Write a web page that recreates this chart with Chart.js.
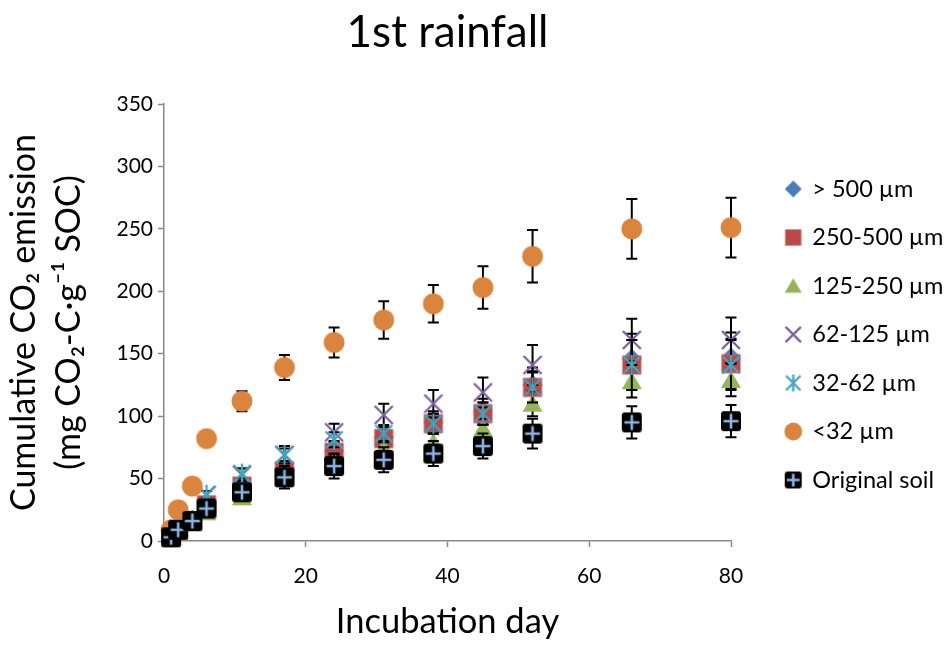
<!DOCTYPE html>
<html>
<head>
<meta charset="utf-8">
<script src="https://cdn.jsdelivr.net/npm/chart.js@4.4.1/dist/chart.umd.min.js"></script>
<style>
  html, body { margin: 0; padding: 0; background: #fff; }
  canvas { display: block; }
</style>
</head>
<body>
<canvas id="chart" width="947" height="646"></canvas>
<script>
// incubation days
var days = [1, 2, 4, 6, 11, 17, 24, 31, 38, 45, 52, 66, 80];

// cumulative CO2 (mean) and error bar size per fraction
var gt500 = [3, 8, 16, 29, 44, 58, 72, 83, 95, 104, 125, 146, 147];
var gt500Err = [1, 1, 2, 3, 4, 5, 7, 8, 9, 10, 14, 20, 20];
var f250 = [3, 8, 16, 29, 44, 56, 71, 82, 94, 102, 123, 141, 142];
var f250Err = [1, 1, 2, 3, 4, 5, 6, 7, 8, 9, 13, 20, 20];
var f125 = [2, 7, 14, 23, 35, 50, 64, 74, 79, 90, 110, 128, 129];
var f125Err = [1, 1, 2, 2, 3, 4, 5, 6, 7, 8, 10, 13, 13];
var f62 = [4, 9, 17, 37, 53, 69, 87, 101, 110, 119, 141, 161, 161];
var f62Err = [1, 1, 2, 3, 5, 7, 7, 9, 11, 12, 16, 17, 18];
var f32 = [4, 9, 17, 37, 54, 69, 81, 86, 94, 102, 123, 141, 141];
var f32Err = [1, 1, 2, 3, 4, 5, 6, 7, 8, 9, 12, 20, 20];
var lt32 = [9, 25, 44, 82, 112, 139, 159, 177, 190, 203, 228, 250, 251];
var lt32Err = [2, 3, 4, 3, 8, 10, 12, 15, 15, 17, 21, 24, 24];
var orig = [3, 9, 16, 26, 39, 51, 60, 65, 70, 76, 86, 95, 96];
var origErr = [1, 2, 3, 4, 6, 9, 10, 10, 10, 10, 12, 13, 13];

var seriesNames = ['> 500 \u00b5m', '250-500 \u00b5m', '125-250 \u00b5m', '62-125 \u00b5m', '32-62 \u00b5m', '<32 \u00b5m', 'Original soil'];
var xTicks = [0, 20, 40, 60, 80];
var yTicks = [0, 50, 100, 150, 200, 250, 300, 350];

// marker images (Excel style markers)
function marker(size, draw) {
    var c = document.createElement('canvas');
    c.width = c.height = Math.ceil(size + 6);
    var g = c.getContext('2d');
    g.translate(c.width / 2, c.height / 2);
    draw(g, size / 2);
    return c;
}

var shapes = [
    function(g, h) { // diamond
        g.fillStyle = '#4A7EBB';
        g.beginPath();
        g.moveTo(0, -h); g.lineTo(h, 0); g.lineTo(0, h); g.lineTo(-h, 0);
        g.closePath(); g.fill();
    },
    function(g, h) { // square
        g.fillStyle = '#BA4A47';
        g.fillRect(-h * 0.92, -h * 0.92, h * 1.84, h * 1.84);
        g.strokeStyle = 'rgba(205,110,105,0.7)';
        g.lineWidth = 1;
        g.strokeRect(-h * 0.92, -h * 0.92, h * 1.84, h * 1.84);
    },
    function(g, h) { // triangle
        g.fillStyle = '#93B553';
        g.beginPath();
        g.moveTo(0, -h * 0.9); g.lineTo(h, h * 0.8); g.lineTo(-h, h * 0.8);
        g.closePath(); g.fill();
    },
    function(g, h) { // x
        g.strokeStyle = '#7D60A0';
        g.lineWidth = 2.3;
        var s = h * 0.9;
        g.beginPath();
        g.moveTo(-s, -s); g.lineTo(s, s);
        g.moveTo(s, -s); g.lineTo(-s, s);
        g.stroke();
    },
    function(g, h) { // star
        g.strokeStyle = '#43A5C0';
        g.lineWidth = 2.3;
        var s = h * 0.85;
        g.beginPath();
        g.moveTo(-s, -s); g.lineTo(s, s);
        g.moveTo(s, -s); g.lineTo(-s, s);
        g.moveTo(0, -h); g.lineTo(0, h);
        g.stroke();
    },
    function(g, h) { // circle
        g.fillStyle = '#DB843D';
        g.beginPath();
        g.arc(0, 0, h * 1.05, 0, Math.PI * 2);
        g.fill();
    },
    function(g, h) { // black square with cross
        g.fillStyle = '#000';
        g.beginPath();
        g.roundRect(-h, -h, h * 2, h * 2, 3);
        g.fill();
        g.strokeStyle = '#8DB3E2';
        g.lineWidth = 2.6;
        var s = h * 0.75;
        g.beginPath();
        g.moveTo(-s, 0); g.lineTo(s, 0);
        g.moveTo(0, -s); g.lineTo(0, s);
        g.stroke();
    }
];

var chartMarkers = shapes.map(function(f) { return marker(20, f); });
var legendMarkers = shapes.map(function(f) { return marker(17, f); });

var values = [gt500, f250, f125, f62, f32, lt32, orig];
var errors = [gt500Err, f250Err, f125Err, f62Err, f32Err, lt32Err, origErr];

var datasets = values.map(function(vals, k) {
    return {
        label: seriesNames[k],
        data: days.map(function(d, i) { return {x: d, y: vals[i]}; }),
        errors: errors[k],
        pointStyle: chartMarkers[k],
        pointRadius: 10,
        showLine: false,
        clip: false,
        order: 7 - k
    };
});

// error bars, drawn just under each series' own markers
var errorBars = {
    id: 'errorBars',
    beforeDatasetDraw: function(chart, args) {
        var ds = chart.data.datasets[args.index];
        if (!ds.errors) return;
        var xs = chart.scales.x, ys = chart.scales.y, ctx = chart.ctx;
        ctx.save();
        ctx.strokeStyle = '#000';
        ctx.lineWidth = 2;
        ds.data.forEach(function(p, i) {
            var e = ds.errors[i];
            var px = xs.getPixelForValue(p.x);
            var top = ys.getPixelForValue(p.y + e);
            var bot = ys.getPixelForValue(p.y - e);
            ctx.beginPath();
            ctx.moveTo(px, top); ctx.lineTo(px, bot);
            ctx.moveTo(px - 5.5, top); ctx.lineTo(px + 5.5, top);
            ctx.moveTo(px - 5.5, bot); ctx.lineTo(px + 5.5, bot);
            ctx.stroke();
        });
        ctx.restore();
    }
};

Chart.defaults.font.family = 'Lato';
Chart.defaults.color = '#000';

var axisColor = '#898989';

new Chart(document.getElementById('chart'), {
    type: 'scatter',
    data: { datasets: datasets },
    plugins: [errorBars],
    options: {
        responsive: false,
        animation: false,
        events: [],
        layout: { padding: 0 },
        scales: {
            x: {
                type: 'linear',
                min: 0, max: 80,
                afterBuildTicks: function(s) { s.ticks = xTicks.map(function(v) { return {value: v}; }); },
                afterFit: function(s) { s.height = 105; },
                grid: { drawOnChartArea: false, drawTicks: true, tickLength: 6, tickColor: axisColor, tickWidth: 1.5 },
                border: { color: axisColor, width: 1.5 },
                ticks: { font: { size: 21 }, padding: 17, color: '#000' },
                title: { display: true, text: 'Incubation day', font: { size: 34.5 }, padding: { top: 0, bottom: 3 }, color: '#000' }
            },
            y: {
                type: 'linear',
                min: 0, max: 350,
                afterBuildTicks: function(s) { s.ticks = yTicks.map(function(v) { return {value: v}; }); },
                afterFit: function(s) { s.width = 164; },
                grid: { drawOnChartArea: false, drawTicks: true, tickLength: 6, tickColor: axisColor, tickWidth: 1.5 },
                border: { color: axisColor, width: 1.5 },
                ticks: { font: { size: 21 }, padding: 5, color: '#000' },
                title: {
                    display: true,
                    text: ['Cumulative CO\u2082 emission', '(mg CO\u2082-C\u00b7g\u207b\u00b9 SOC)'],
                    font: { size: 34, lineHeight: 1.33 },
                    padding: { top: 1.5, bottom: 0 },
                    color: '#000'
                }
            },
            gap: {
                type: 'linear',
                position: 'right',
                display: true,
                afterFit: function(s) { s.width = 30; },
                grid: { display: false },
                border: { display: false },
                ticks: { display: false }
            }
        },
        plugins: {
            tooltip: { enabled: false },
            title: {
                display: true,
                text: '1st rainfall',
                fullSize: false,
                font: { size: 44, weight: 'normal' },
                padding: { top: 6.5, bottom: 44.7 },
                color: '#000'
            },
            legend: {
                position: 'right',
                align: 'start',
                maxWidth: 186,
                title: { display: true, text: '', font: { size: 10 }, padding: { top: 140.25, bottom: 0 } },
                labels: {
                    usePointStyle: true,
                    pointStyleWidth: 14.5,
                    padding: 25,
                    font: { size: 23.5 },
                    color: '#000',
                    sort: function(a, b) { return a.datasetIndex - b.datasetIndex; },
                    generateLabels: function(chart) {
                        var items = Chart.defaults.plugins.legend.labels.generateLabels(chart);
                        items.forEach(function(it) { it.pointStyle = legendMarkers[it.datasetIndex]; });
                        return items;
                    }
                }
            }
        }
    }
});
</script>
</body>
</html>
